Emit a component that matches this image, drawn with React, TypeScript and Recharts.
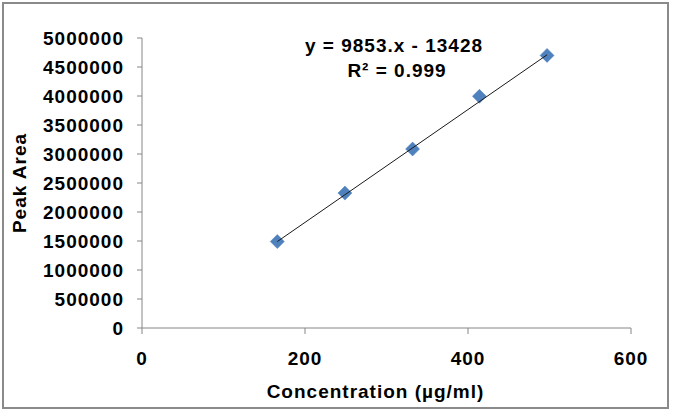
import React from "react";
import {
  ScatterChart,
  Scatter,
  XAxis,
  YAxis,
} from "recharts";

// concentration (µg/ml) vs peak area
const concentration = [166, 249, 332, 414, 497];
const peakArea = [1490000, 2326000, 3086000, 3995000, 4700000];

// trendline end points as drawn (first and last point)
const trendX = [166, 497];
const trendY = [1490000, 4710000];

const xTicks = [0, 200, 400, 600];
const yTicks = [0, 500000, 1000000, 1500000, 2000000, 2500000, 3000000, 3500000, 4000000, 4500000, 5000000];

const equation = "y = 9853.x - 13428";
const rSquared = "R² = 0.999";

const points = concentration.map((x, i) => ({ x, y: peakArea[i] }));
const trend = trendX.map((x, i) => ({ x, y: trendY[i] }));

const font = "'Liberation Sans', Arial, sans-serif";
const axisGray = "#868686";
const tickStyle = { fontSize: 19, fontWeight: 700, fill: "#000", fontFamily: font, letterSpacing: 1 };

function Diamond(props: any) {
  const { cx, cy } = props;
  const r = 7;
  return (
    <polygon
      points={`${cx},${cy - r} ${cx + r},${cy} ${cx},${cy + r} ${cx - r},${cy}`}
      fill="#4f81bd"
      stroke="#4a7ebb"
      strokeWidth={0.5}
    />
  );
}

export default function App() {
  return (
    <div style={{ position: "absolute", left: 0, top: 0, width: 673, height: 411, background: "#fff" }}>
      <div
        style={{
          position: "absolute",
          left: 2,
          top: 2,
          width: 667,
          height: 407,
          boxSizing: "border-box",
          border: "2px solid #8a8a8a",
        }}
      />
      <div style={{ position: "absolute", left: 0, top: 0 }}>
        <ScatterChart width={673} height={411} margin={{ top: 38, right: 42, bottom: 0, left: 0 }}>
          <XAxis
            type="number"
            dataKey="x"
            domain={[0, 600]}
            ticks={xTicks}
            height={83}
            tick={tickStyle}
            tickSize={6}
            tickMargin={18}
            axisLine={{ stroke: axisGray }}
            tickLine={{ stroke: axisGray }}
            label={{
              value: "Concentration (µg/ml)",
              position: "insideBottom",
              offset: 13,
              dx: -11,
              style: { ...tickStyle, textAnchor: "middle" },
            }}
          />
          <YAxis
            type="number"
            dataKey="y"
            domain={[0, 5000000]}
            ticks={yTicks}
            width={142}
            tick={tickStyle}
            tickSize={5}
            tickMargin={13}
            interval={0}
            axisLine={{ stroke: axisGray }}
            tickLine={{ stroke: axisGray }}
            label={{
              value: "Peak Area",
              angle: -90,
              position: "insideLeft",
              offset: 19,
              style: { ...tickStyle, textAnchor: "middle" },
            }}
          />
          <Scatter data={points} shape={<Diamond />} isAnimationActive={false} />
          <Scatter
            data={trend}
            line={{ stroke: "#1a1a1a", strokeWidth: 1 }}
            shape={() => null}
            isAnimationActive={false}
          />
          <text x={394} y={52} textAnchor="middle" style={tickStyle}>
            {equation}
          </text>
          <text x={397} y={77} textAnchor="middle" style={tickStyle}>
            {rSquared}
          </text>
        </ScatterChart>
      </div>
    </div>
  );
}
